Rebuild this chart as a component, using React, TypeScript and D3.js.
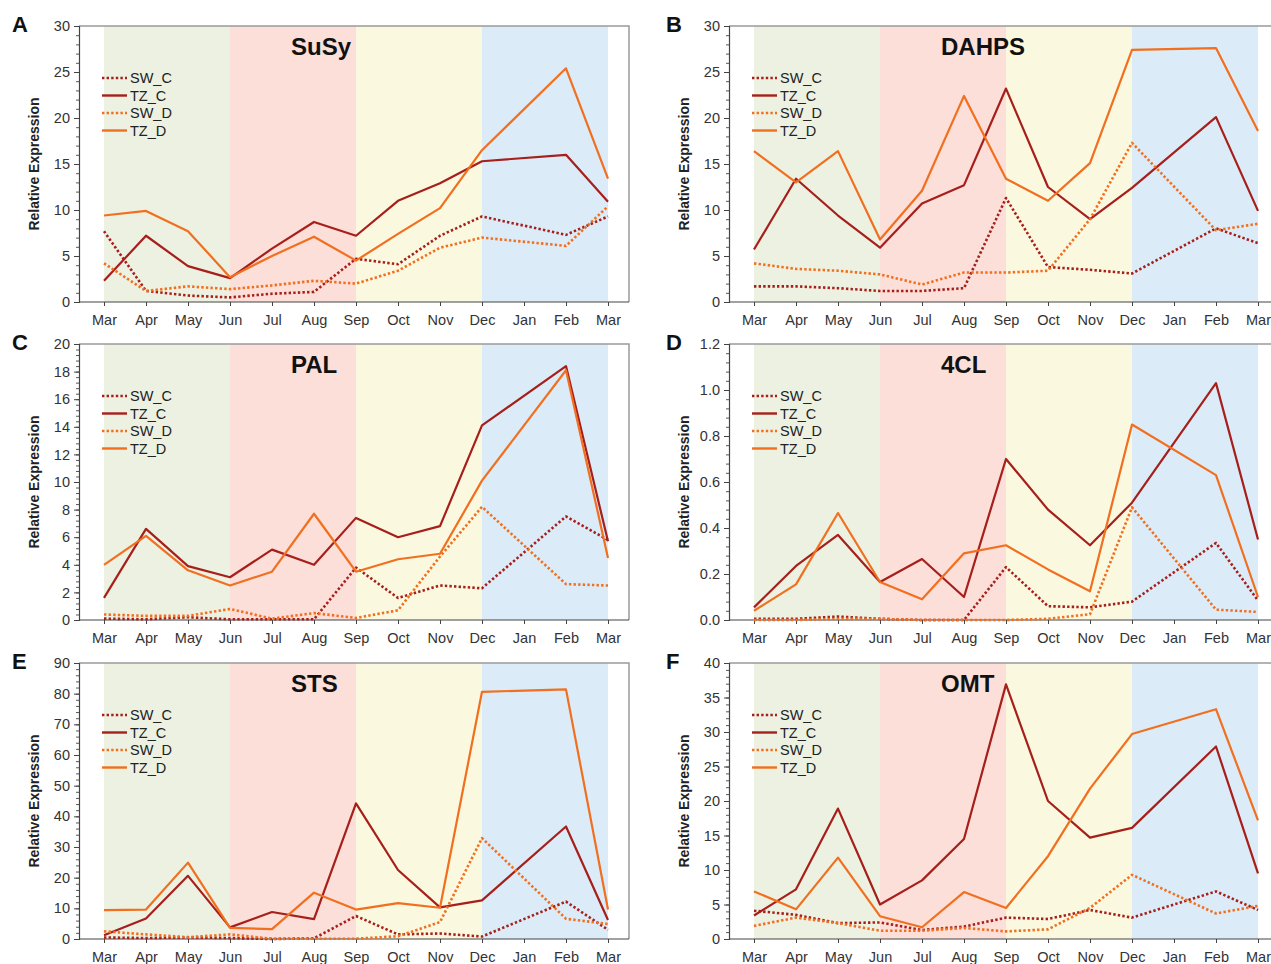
import React, { useEffect, useRef } from 'react';
import * as d3 from 'd3';

// x categories (Jan has no sample, lines join Dec -> Feb)
const months = ['Mar', 'Apr', 'May', 'Jun', 'Jul', 'Aug', 'Sep', 'Oct', 'Nov', 'Dec', 'Jan', 'Feb', 'Mar'];
const seriesNames = ['SW_C', 'TZ_C', 'SW_D', 'TZ_D'];

// A - SuSy
const susySWC = [7.7, 1.2, 0.7, 0.5, 0.9, 1.1, 4.7, 4.1, 7.2, 9.3, null, 7.3, 9.3];
const susyTZC = [2.3, 7.2, 3.9, 2.6, 5.8, 8.7, 7.2, 11.0, 12.9, 15.3, null, 16.0, 10.9];
const susySWD = [4.2, 1.2, 1.7, 1.4, 1.8, 2.3, 2.0, 3.4, 5.9, 7.0, null, 6.1, 10.4];
const susyTZD = [9.4, 9.9, 7.7, 2.7, 5.0, 7.1, 4.5, 7.4, 10.2, 16.5, null, 25.4, 13.4];

// B - DAHPS
const dahpsSWC = [1.7, 1.7, 1.5, 1.2, 1.2, 1.5, 11.3, 3.8, 3.5, 3.1, null, 8.0, 6.4];
const dahpsTZC = [5.7, 13.4, 9.4, 5.9, 10.7, 12.7, 23.2, 12.5, 9.0, 12.4, null, 20.1, 9.9];
const dahpsSWD = [4.2, 3.6, 3.4, 3.0, 1.9, 3.2, 3.2, 3.4, 9.0, 17.3, null, 7.8, 8.5];
const dahpsTZD = [16.4, 13.0, 16.4, 6.8, 12.1, 22.4, 13.4, 11.0, 15.1, 27.4, null, 27.6, 18.6];

// C - PAL
const palSWC = [0.1, 0.05, 0.2, 0.05, 0.05, 0.05, 3.8, 1.6, 2.5, 2.3, null, 7.5, 5.8];
const palTZC = [1.6, 6.6, 3.9, 3.1, 5.1, 4.0, 7.4, 6.0, 6.8, 14.1, null, 18.4, 5.7];
const palSWD = [0.4, 0.3, 0.3, 0.8, 0.1, 0.5, 0.15, 0.7, 4.6, 8.2, null, 2.6, 2.5];
const palTZD = [4.0, 6.1, 3.6, 2.5, 3.5, 7.7, 3.5, 4.4, 4.8, 10.1, null, 18.1, 4.5];

// D - 4CL
const fclSWC = [0.005, 0.005, 0.015, 0.005, 0.0, 0.0, 0.23, 0.06, 0.055, 0.08, null, 0.335, 0.085];
const fclTZC = [0.055, 0.235, 0.37, 0.165, 0.265, 0.1, 0.7, 0.48, 0.325, 0.51, null, 1.03, 0.35];
const fclSWD = [0.0, 0.0, 0.005, 0.005, 0.0, 0.0, 0.0, 0.005, 0.025, 0.49, null, 0.045, 0.035];
const fclTZD = [0.04, 0.155, 0.465, 0.165, 0.09, 0.29, 0.325, 0.22, 0.125, 0.85, null, 0.63, 0.1];

// E - STS
const stsSWC = [0.5, 0.3, 0.5, 0.3, 0.0, 0.2, 7.5, 1.5, 1.8, 0.8, null, 12.2, 3.0];
const stsTZC = [1.2, 6.7, 20.6, 3.8, 8.8, 6.5, 44.2, 22.5, 10.3, 12.6, null, 36.7, 6.2];
const stsSWD = [2.5, 1.5, 0.6, 1.5, 0.1, 0.1, 0.1, 0.9, 5.5, 32.9, null, 6.6, 4.9];
const stsTZD = [9.4, 9.6, 24.9, 3.6, 3.2, 15.1, 9.6, 11.7, 10.2, 80.6, null, 81.4, 9.6];

// F - OMT
const omtSWC = [4.1, 3.5, 2.3, 2.4, 1.3, 1.8, 3.1, 2.9, 4.2, 3.1, null, 6.9, 4.2];
const omtTZC = [3.4, 7.2, 18.9, 5.0, 8.5, 14.5, 36.9, 20.0, 14.7, 16.1, null, 27.9, 9.5];
const omtSWD = [1.9, 3.1, 2.3, 1.2, 1.2, 1.6, 1.1, 1.4, 4.5, 9.3, null, 3.7, 4.8];
const omtTZD = [6.9, 4.3, 11.8, 3.3, 1.7, 6.8, 4.5, 12.0, 21.8, 29.7, null, 33.3, 17.2];

const panelLetters = ['A', 'B', 'C', 'D', 'E', 'F'];
const panelTitles = ['SuSy', 'DAHPS', 'PAL', '4CL', 'STS', 'OMT'];
const yMax = [30, 30, 20, 1.2, 90, 40];
const yStep = [5, 5, 2, 0.2, 10, 5];
const panelSeries = [
  [susySWC, susyTZC, susySWD, susyTZD],
  [dahpsSWC, dahpsTZC, dahpsSWD, dahpsTZD],
  [palSWC, palTZC, palSWD, palTZD],
  [fclSWC, fclTZC, fclSWD, fclTZD],
  [stsSWC, stsTZC, stsSWD, stsTZD],
  [omtSWC, omtTZC, omtSWD, omtTZD],
];

// seasons: start/end month index
const seasons = [
  { from: 0, to: 3, color: '#ecf1e2' },
  { from: 3, to: 6, color: '#fbdfd8' },
  { from: 6, to: 9, color: '#faf8df' },
  { from: 9, to: 12, color: '#dbecf8' },
];

const seriesColor = ['#a61f1b', '#a61f1b', '#f16f1f', '#f16f1f'];
const seriesDotted = [true, false, true, false];

export default function App() {
  const svgRef = useRef<SVGSVGElement>(null);

  useEffect(() => {
    const svg = d3.select(svgRef.current);
    svg.selectAll('*').remove();

    const font = 'Liberation Sans, Arial, Helvetica, sans-serif';
    const axisXs = [79, 729];
    const tops = [26, 344, 663];
    const plotH = 276;
    const frameW = 550;

    panelTitles.forEach((title, p) => {
      const col = p % 2;
      const row = Math.floor(p / 2);
      const x0 = axisXs[col];
      const top = tops[row];
      const bottom = top + plotH;

      const x = d3.scaleLinear().domain([0, 12]).range([x0 + 25, x0 + 25 + 504]);
      const y = d3.scaleLinear().domain([0, yMax[p]]).range([bottom, top]);

      const g = svg.append('g');

      // season bands
      seasons.forEach(s => {
        g.append('rect')
          .attr('x', x(s.from))
          .attr('y', top)
          .attr('width', x(s.to) - x(s.from))
          .attr('height', plotH)
          .attr('fill', s.color);
      });

      // frame (top + right)
      g.append('path')
        .attr('d', `M${x0},${top}H${x0 + frameW}V${bottom}`)
        .attr('fill', 'none')
        .attr('stroke', '#9a9a9a')
        .attr('stroke-width', 1.5);

      // y axis with minor ticks
      const majors = d3.range(0, yMax[p] + yStep[p] / 2, yStep[p]);
      const minors = d3.range(0, yMax[p] + yStep[p] / 10, yStep[p] / 5);
      const fmt = yMax[p] < 2 ? d3.format('.1f') : d3.format('d');

      g.append('g')
        .attr('transform', `translate(${x0},0)`)
        .call(d3.axisLeft(y).tickValues(minors).tickSize(3).tickFormat(() => ''))
        .call(a => a.select('.domain').remove())
        .selectAll('line')
        .attr('stroke', '#555');

      const yAxis = g.append('g')
        .attr('transform', `translate(${x0},0)`)
        .call(d3.axisLeft(y).tickValues(majors).tickSize(5).tickPadding(4).tickFormat(d => fmt(d as number)));
      yAxis.select('.domain').attr('stroke', '#444').attr('stroke-width', 1.2);
      yAxis.selectAll('line').attr('stroke', '#444');
      yAxis.selectAll('text')
        .attr('fill', '#333')
        .style('font-family', font)
        .style('font-size', '14.5px');

      // x axis
      g.append('line')
        .attr('x1', x0).attr('x2', x0 + frameW)
        .attr('y1', bottom).attr('y2', bottom)
        .attr('stroke', '#444')
        .attr('stroke-width', 1.2);

      const xAxis = g.append('g')
        .attr('transform', `translate(0,${bottom})`)
        .call(d3.axisBottom(x).tickValues(d3.range(13)).tickSize(4).tickPadding(9)
          .tickFormat(d => months[d as number]));
      xAxis.select('.domain').remove();
      xAxis.selectAll('line').attr('stroke', '#444');
      xAxis.selectAll('text')
        .attr('fill', '#333')
        .style('font-family', font)
        .style('font-size', '14.5px');

      // y label
      g.append('text')
        .attr('transform', `translate(${x0 - 40},${(top + bottom) / 2}) rotate(-90)`)
        .attr('text-anchor', 'middle')
        .attr('fill', '#222')
        .style('font-family', font)
        .style('font-size', '14px')
        .style('font-weight', 'bold')
        .text('Relative Expression');

      // panel letter
      svg.append('text')
        .attr('x', x0 - 67 + col * 4)
        .attr('y', top + 6)
        .attr('fill', '#111')
        .style('font-family', font)
        .style('font-size', '22px')
        .style('font-weight', 'bold')
        .text(panelLetters[p]);

      // title
      g.append('text')
        .attr('x', x0 + 212)
        .attr('y', top + 29)
        .attr('fill', '#111')
        .style('font-family', font)
        .style('font-size', '24px')
        .style('font-weight', 'bold')
        .text(title);

      // lines
      const line = d3.line<[number, number]>()
        .x(d => x(d[0]))
        .y(d => y(d[1]));

      panelSeries[p].forEach((vals, s) => {
        const pts = vals
          .map((v, i) => [i, v] as [number, number | null])
          .filter(d => d[1] !== null) as [number, number][];
        g.append('path')
          .datum(pts)
          .attr('fill', 'none')
          .attr('stroke', seriesColor[s])
          .attr('stroke-width', seriesDotted[s] ? 2.6 : 2.2)
          .attr('stroke-dasharray', seriesDotted[s] ? '2.4,2.2' : null)
          .attr('stroke-linejoin', 'round')
          .attr('d', line);
      });

      // legend
      const legend = g.append('g')
        .attr('transform', `translate(${x0 + 23},${top + 52})`);
      seriesNames.forEach((name, s) => {
        legend.append('line')
          .attr('x1', 0).attr('x2', 25)
          .attr('y1', s * 17.5).attr('y2', s * 17.5)
          .attr('stroke', seriesColor[s])
          .attr('stroke-width', seriesDotted[s] ? 2.6 : 2.4)
          .attr('stroke-dasharray', seriesDotted[s] ? '2.4,2.2' : null);
        legend.append('text')
          .attr('x', 28)
          .attr('y', s * 17.5 + 5)
          .attr('fill', '#222')
          .style('font-family', font)
          .style('font-size', '14.5px')
          .text(name);
      });
    });
  }, []);

  return (
    <svg
      ref={svgRef}
      width={1271}
      height={964}
      style={{ position: 'absolute', left: 0, top: 0, background: '#fff' }}
    />
  );
}
